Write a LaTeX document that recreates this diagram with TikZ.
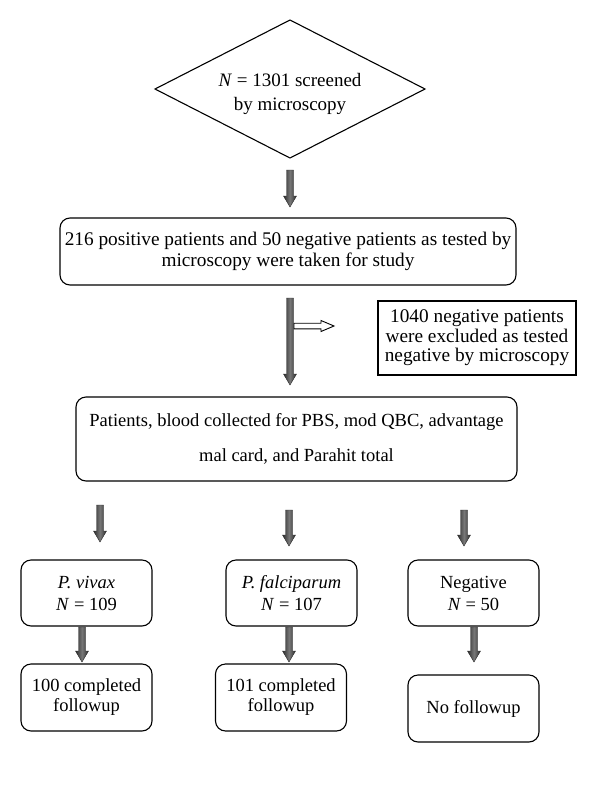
\documentclass[tikz,border=0pt]{standalone}
\usepackage{fontspec}
\setmainfont{Liberation Serif}
\usetikzlibrary{calc}
\definecolor{adark}{HTML}{2E2E2E}
\definecolor{alight}{HTML}{777777}
\newcommand\blockarrow[2]{%
  \shadedraw[draw=black!85, line width=0.4pt, left color=adark, right color=adark, middle color=alight]
  let \p1=(#1), \p2=(#2) in
  (\x1-3.5pt,\y1) -- (\x1-3.5pt,\y2+11pt) -- (\x1-6.5pt,\y2+11pt) -- (\x1,\y2)
  -- (\x1+6.5pt,\y2+11pt) -- (\x1+3.5pt,\y2+11pt) -- (\x1+3.5pt,\y1) -- cycle;}
\newcommand\hollowarrow[2]{%
  \draw[black, line width=0.9pt, fill=white]
  let \p1=(#1), \p2=(#2) in
  (\x1,\y1+2.8pt) -- (\x2-13pt,\y1+2.8pt) -- (\x2-13pt,\y1+5.5pt) -- (\x2,\y1)
  -- (\x2-13pt,\y1-5.5pt) -- (\x2-13pt,\y1-2.8pt) -- (\x1,\y1-2.8pt) -- cycle;}
\begin{document}
\begin{tikzpicture}[x=1pt,y=-1pt,
  txt/.style={align=center, inner sep=0pt, font=\fontsize{19}{#1}\selectfont},
  txt/.default=20,
  rbox/.style={draw=black, line width=1.1pt, rounded corners=10pt, align=center, inner sep=0pt,
    font=\fontsize{18.5}{#1}\selectfont},
  rbox/.default=20,
  sbox/.style={draw=black, line width=1.1pt, align=center, inner sep=0pt,
    font=\fontsize{19.3}{19.5}\selectfont}]
\useasboundingbox (0,0) rectangle (600,796);

% diamond
\coordinate (dl) at (155,89);
\coordinate (dt) at (290,20);
\coordinate (dr) at (425,89);
\coordinate (db) at (290,158);
\draw[black, line width=1.1pt] (dl) -- (dt) -- (dr) -- (db) -- cycle;
\node[txt=24] (d) at (290,94) {\textit{N} = 1301 screened\\by microscopy};

% boxes
\node[rbox=21, minimum width=456pt, minimum height=67pt, font=\fontsize{19.3}{21}\selectfont] (b2) at (288,251.5)
  {216 positive patients and 50 negative patients as tested by\\microscopy were taken for study};
\node[sbox, minimum width=198pt, minimum height=74pt] (ex) at (477,338)
  {1040 negative patients\\were excluded as tested\\negative by microscopy};
\node[rbox=35, minimum width=441pt, minimum height=84pt] (b3) at (296.5,439)
  {Patients, blood collected for PBS, mod QBC, advantage\\mal card, and Parahit total};

\node[rbox=22, minimum width=131pt, minimum height=66pt] (pv) at (86.5,593)
  {\textit{P. vivax}\\\textit{N} = 109};
\node[rbox=22, minimum width=131pt, minimum height=66pt] (pf) at (291.5,593)
  {\textit{P. falciparum}\\\textit{N} = 107};
\node[rbox=22, minimum width=131pt, minimum height=66pt] (ng) at (473.5,593)
  {Negative\\\textit{N} = 50};

\node[rbox=20, minimum width=131pt, minimum height=67pt] (c1) at (86.5,697.5)
  {100 completed\\followup};
\node[rbox=20, minimum width=131pt, minimum height=67pt] (c2) at (281,697.5)
  {101 completed\\followup};
\node[rbox=20, minimum width=131pt, minimum height=67pt] (c3) at (473.5,708.5)
  {No followup};

% arrows
\coordinate (a1s) at (290,170); \coordinate (a1e) at (290,207);
\coordinate (a2s) at (290,298); \coordinate (a2e) at (290,385);
\coordinate (hs) at (294,326); \coordinate (he) at (334,326);
\coordinate (r1s) at (100,505); \coordinate (r1e) at (100,542);
\coordinate (r2s) at (289,510); \coordinate (r2e) at (289,546);
\coordinate (r3s) at (464,510); \coordinate (r3e) at (464,546);
\coordinate (s1s) at (82,627); \coordinate (s1e) at (82,662);
\coordinate (s2s) at (289,627); \coordinate (s2e) at (289,662);
\coordinate (s3s) at (474,627); \coordinate (s3e) at (474,662);

\blockarrow{a1s}{a1e}
\blockarrow{a2s}{a2e}
\hollowarrow{hs}{he}
\blockarrow{r1s}{r1e}
\blockarrow{r2s}{r2e}
\blockarrow{r3s}{r3e}
\blockarrow{s1s}{s1e}
\blockarrow{s2s}{s2e}
\blockarrow{s3s}{s3e}
\end{tikzpicture}
\end{document}
